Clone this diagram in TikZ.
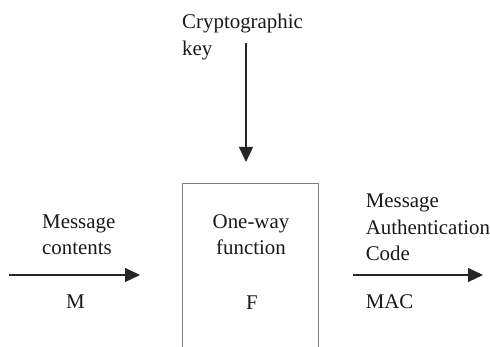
\documentclass[tikz,border=0pt]{standalone}
\usepackage{fontspec}
\setmainfont{Liberation Serif}
\usetikzlibrary{arrows.meta}
\tikzset{
  lbl/.style={inner sep=0pt, align=left, anchor=base west,
    font=\fontsize{20.9}{26.5}\selectfont, text=black!90},
  sym/.style={inner sep=0pt, anchor=base,
    font=\fontsize{20.9}{26.5}\selectfont, text=black!90},
  flow/.style={draw=black!85, line width=1.2pt,
    -{Triangle[length=15pt,width=14pt]}},
  fnbox/.style={draw=black!50, line width=1pt, fill=none,
    minimum width=136.5pt, minimum height=200pt, inner sep=0pt}
}
\begin{document}
\begin{tikzpicture}[x=1pt,y=1pt]
  \useasboundingbox (0,0) rectangle (490,347);
  \clip (0,0) rectangle (490,347);

  % the one-way function block, running off the lower edge
  \node[fnbox, anchor=north] (fn) at (250.25,164.3) {};
  % multi-line nodes are anchored on the baseline of their last line
  \node[sym, align=center] (fname) at (251,92) {One-way\\function};
  \node[sym] (fsym) at (252,37.5) {F};

  % key input from above
  \node[lbl] (keylbl) at (182,291.5) {Cryptographic\\key};
  \coordinate (keystart) at (246,304);
  \coordinate (keyend) at (246,185);
  \draw[flow] (keystart) -- (keyend);

  % message input from the left
  \node[lbl] (msglbl) at (42,92) {Message\\contents};
  \node[sym] (msym) at (75.5,38.5) {M};
  \coordinate (msgstart) at (9,72);
  \coordinate (msgend) at (140,72);
  \draw[flow] (msgstart) -- (msgend);

  % MAC output to the right
  \node[lbl] (maclbl) at (365.6,86.3) {Message\\Authentication\\Code};
  \node[lbl] (macsym) at (365.6,38) {MAC};
  \coordinate (macstart) at (353,72);
  \coordinate (macend) at (483,72);
  \draw[flow] (macstart) -- (macend);
\end{tikzpicture}
\end{document}
